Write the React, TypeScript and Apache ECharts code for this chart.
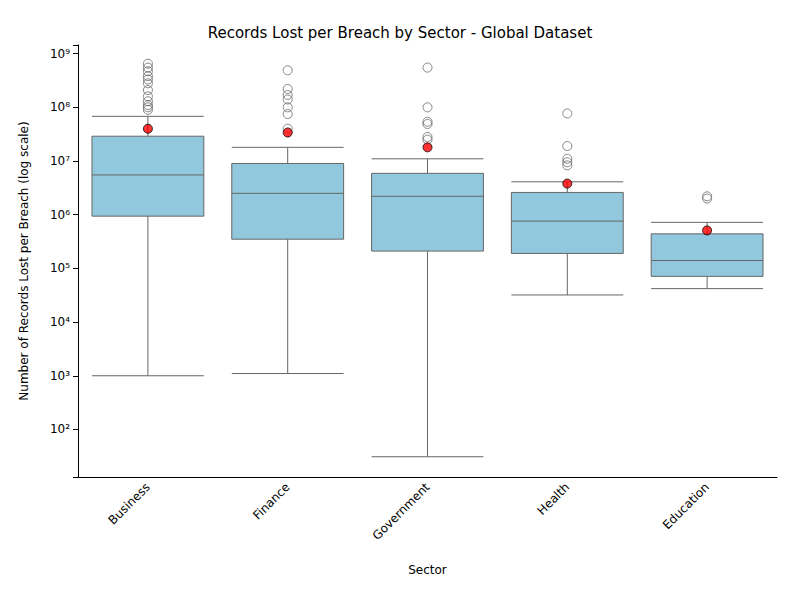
import React, { useEffect, useRef } from 'react';
import * as echarts from 'echarts';

const sectors = ['Business', 'Finance', 'Government', 'Health', 'Education'];
// [lowWhisker, Q1, median, Q3, highWhisker]
const boxStats = [
  [1000, 9.4e5, 5.5e6, 2.9e7, 6.8e7],
  [1100, 3.5e5, 2.5e6, 9.0e6, 1.8e7],
  [31, 2.1e5, 2.2e6, 5.9e6, 1.1e7],
  [3.2e4, 1.9e5, 7.6e5, 2.6e6, 4.1e6],
  [4.2e4, 7.1e4, 1.4e5, 4.4e5, 7.2e5],
];
const means = [4.0e7, 3.4e7, 1.8e7, 3.8e6, 5.1e5];
const outliers: number[][] = [
  [6.5e8, 5.5e8, 4.7e8, 3.8e8, 3.3e8, 2.8e8, 2.1e8, 1.6e8, 1.3e8, 1.1e8, 1.0e8, 9.0e7],
  [4.9e8, 2.2e8, 1.7e8, 1.4e8, 1.0e8, 7.5e7, 4.0e7],
  [5.5e8, 1.0e8, 5.4e7, 4.9e7, 2.8e7, 2.5e7],
  [7.7e7, 1.9e7, 1.1e7, 9.5e6, 8.3e6],
  [2.2e6, 2.0e6],
];

const sup: Record<string, string> = { '0': '⁰', '1': '¹', '2': '²', '3': '³', '4': '⁴', '5': '⁵', '6': '⁶', '7': '⁷', '8': '⁸', '9': '⁹' };

const App: React.FC = () => {
  const ref = useRef<HTMLDivElement>(null);

  useEffect(() => {
    if (!ref.current) return;
    const chart = echarts.init(ref.current, null, { renderer: 'svg' });
    const outlierData: [number, number][] = [];
    outliers.forEach((list, i) => list.forEach((v) => outlierData.push([i, v])));

    chart.setOption({
      animation: false,
      textStyle: { fontFamily: 'DejaVu Sans' },
      title: {
        text: 'Records Lost per Breach by Sector - Global Dataset',
        left: 'center',
        top: 12,
        textStyle: { fontSize: 15, fontWeight: 'normal', color: '#000' },
      },
      grid: { left: 70, right: 15, top: 37, bottom: 115 },
      xAxis: {
        type: 'category',
        data: sectors,
        name: 'Sector',
        nameLocation: 'middle',
        nameGap: 87,
        nameTextStyle: { fontSize: 12, color: '#000' },
        axisLine: { lineStyle: { color: '#000' } },
        axisTick: { alignWithLabel: true, lineStyle: { color: '#000' } },
        axisLabel: { rotate: 45, color: '#000', fontSize: 12, margin: 8 },
        splitLine: { show: false },
      },
      yAxis: {
        type: 'log',
        logBase: 10,
        min: 13,
        max: 1.45e9,
        name: 'Number of Records Lost per Breach (log scale)',
        nameLocation: 'middle',
        nameGap: 48,
        nameTextStyle: { fontSize: 12, color: '#000' },
        axisLine: { show: true, lineStyle: { color: '#000' } },
        axisTick: { show: true, lineStyle: { color: '#000' } },
        axisLabel: {
          color: '#000',
          fontSize: 12,
          formatter: (v: number) => {
            const e = Math.round(Math.log10(v));
            if (Math.abs(Math.log10(v) - e) > 1e-6) return '';
            return '10' + String(e).split('').map((c) => sup[c]).join('');
          },
        },
        splitLine: { show: false },
      },
      series: [
        {
          type: 'boxplot',
          data: boxStats,
          boxWidth: ['80%', '80%'],
          itemStyle: { color: '#92c8de', borderColor: '#666', borderWidth: 1 },
        },
        {
          type: 'scatter',
          data: outlierData,
          symbolSize: 9,
          itemStyle: { color: 'rgba(0,0,0,0)', borderColor: '#666', borderWidth: 1 },
        },
        {
          type: 'scatter',
          data: means.map((v, i) => [i, v]),
          symbolSize: 9,
          itemStyle: { color: '#ff0000', borderColor: '#000', borderWidth: 1 },
          z: 5,
        },
      ],
    });
    return () => chart.dispose();
  }, []);

  return <div ref={ref} style={{ width: 784, height: 584 }} />;
};

export default App;
